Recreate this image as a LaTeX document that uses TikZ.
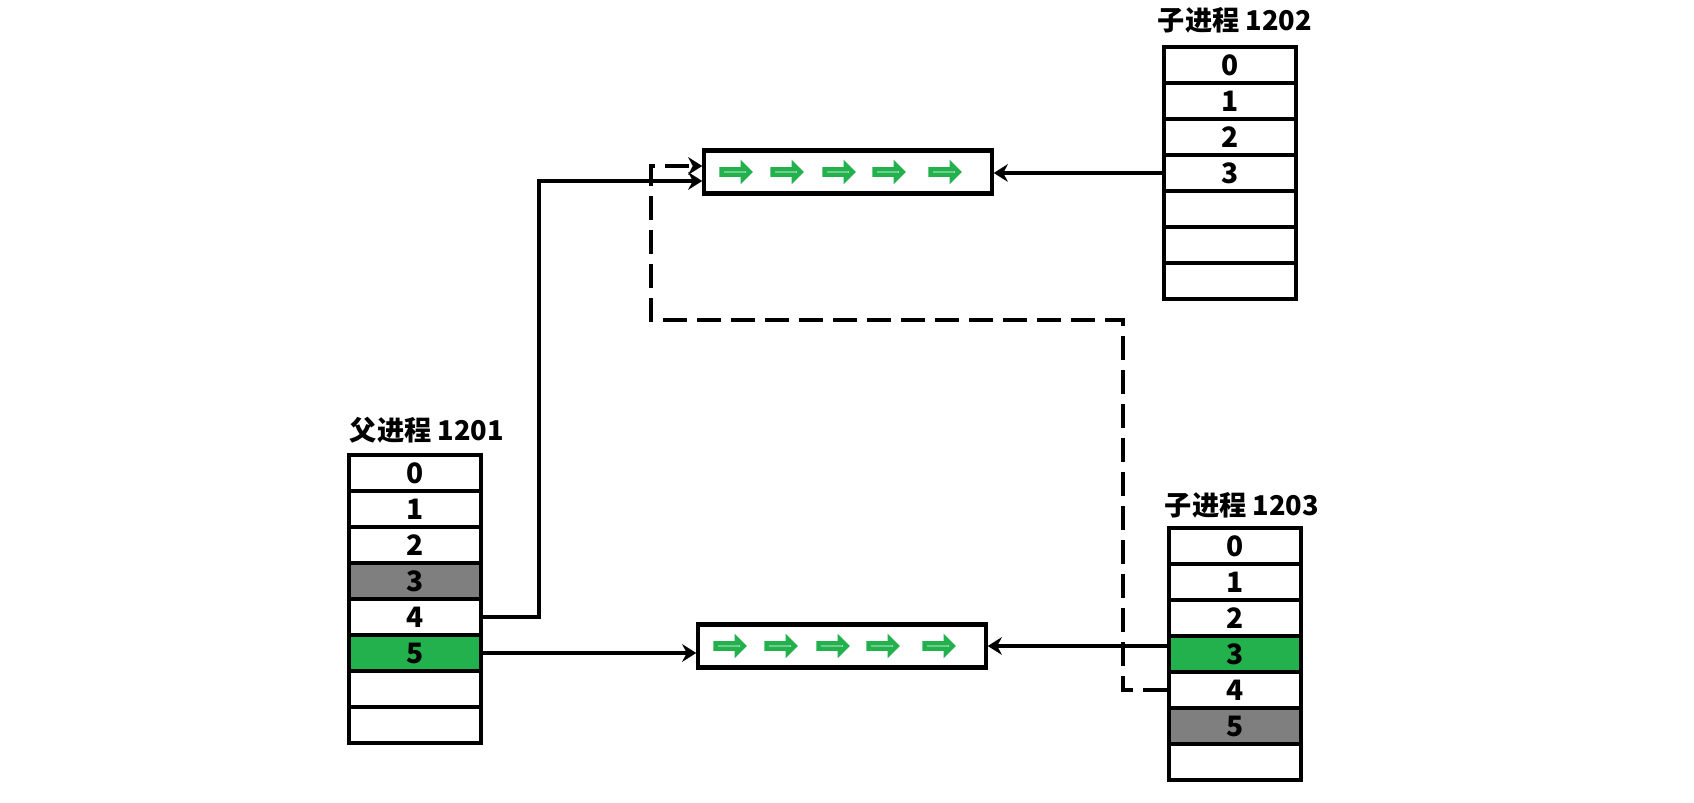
\documentclass[tikz,border=0pt]{standalone}
\usepackage{fontspec}
\setmainfont{Noto Sans CJK SC}
\usetikzlibrary{arrows.meta,shapes.arrows,calc}
\definecolor{fdgreen}{HTML}{22B14C}
\definecolor{fdgray}{HTML}{7F7F7F}

\begin{document}
\begin{tikzpicture}[x=0.02cm, y=-0.02cm, line width=2.3pt,
    >={Stealth[length=8pt,width=10pt]},
    cell/.style={draw, minimum width=2.64cm, minimum height=0.72cm, inner sep=0pt,
                 font=\fontsize{16}{18}\selectfont\bfseries},
    title/.style={font=\fontsize{15.5}{18}\selectfont\bfseries},
    pipe/.style={draw, minimum width=5.75cm, minimum height=0.86cm, inner sep=0pt},
    flow/.style={shape=single arrow, draw=fdgreen, fill=white, line width=2.6pt,
                 line join=miter, minimum height=0.56cm, minimum width=0.27cm,
                 single arrow head extend=0.075cm, inner sep=0pt},
    share/.style={dash pattern=on 0.48cm off 0.2cm}]

    \useasboundingbox (0,0) rectangle (1694,803);

    % 父进程的文件描述符表
    \node[title] (ptitle) at (427,430) {父进程 1201};
    \foreach \i/\t/\c in {0/0/white, 1/1/white, 2/2/white, 3/3/fdgray,
                          4/4/white, 5/5/fdgreen, 6/{}/white, 7/{}/white}
        \node[cell, fill=\c] (p\i) at (415,{455+36*(\i+0.5)}) {\t};

    % 子进程 1202
    \node[title] (atitle) at (1235,20) {子进程 1202};
    \foreach \i/\t in {0/0, 1/1, 2/2, 3/3, 4/{}, 5/{}, 6/{}}
        \node[cell] (a\i) at (1230,{47+36*(\i+0.5)}) {\t};

    % 子进程 1203
    \node[title] (btitle) at (1242,505) {子进程 1203};
    \foreach \i/\t/\c in {0/0/white, 1/1/white, 2/2/white, 3/3/fdgreen,
                          4/4/white, 5/5/fdgray, 6/{}/white}
        \node[cell, fill=\c] (b\i) at (1235,{528+36*(\i+0.5)}) {\t};

    % 两个管道
    \node[pipe] (pipeA) at (848,172) {};
    \node[pipe] (pipeB) at (842,646) {};
    \foreach \dx in {32,83,135,185,241} {
        \node[flow] (fa\dx) at ($(pipeA.west)+(\dx,0)$) {};
        \node[flow] (fb\dx) at ($(pipeB.west)+(\dx,0)$) {};
    }

    % 父进程 4 -> 上管道
    \coordinate (bendA) at (539,181);
    \draw[->] (p4.east) -| (bendA) -- (bendA -| pipeA.west);

    % 父进程 5 -> 下管道
    \draw[->] (p5.east) -- (p5.east -| pipeB.west);

    % 子进程 -> 管道
    \draw[->] (a3.west) -- (a3.west -| pipeA.east);
    \draw[->] (b3.west |- pipeB.east) -- (pipeB.east);

    % 子进程 1203 的 4 (虚线)
    \coordinate (dashR) at (1123,320);
    \coordinate (dashL) at (651,166);
    \draw[->, share] (b4.west) -| (dashR) -| (dashL) -- (dashL -| pipeA.west);
\end{tikzpicture}
\end{document}
